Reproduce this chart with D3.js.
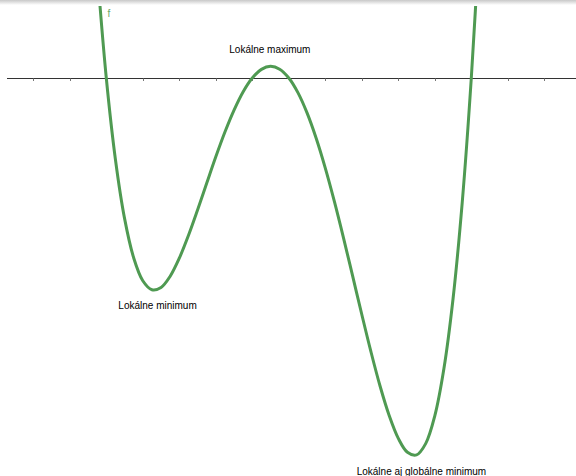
<!DOCTYPE html>
<html>
<head>
<meta charset="utf-8">
<script src="https://cdn.jsdelivr.net/npm/d3@7"></script>
<style>
  body { margin: 0; background: #fff; }
  svg { display: block; font-family: "Liberation Sans", Arial, sans-serif; }
</style>
</head>
<body>
<div id="chart"></div>
<script>
// 1. Data (x in tick units, y in plot units)
const xValues = [1.75, 2, 2.25, 2.5, 2.75, 3, 3.25, 3.5, 3.75, 4, 4.25, 4.5, 4.75, 5, 5.25, 5.5, 5.75,
  6, 6.25, 6.5, 6.75, 7, 7.25, 7.5, 7.75, 8, 8.25, 8.5, 8.75, 9, 9.25, 9.5, 9.75,
  10, 10.25, 10.5, 10.75, 11, 11.25, 11.5, 11.75, 12, 12.25];
const yValues = [5.72, 0, -4.34, -7.48, -9.58, -10.8, -11.28, -11.16, -10.56, -9.6, -8.39, -7.03, -5.61,
  -4.2, -2.88, -1.71, -0.73, 0, 0.46, 0.62, 0.47, 0, -0.78, -1.86, -3.21, -4.8, -6.59, -8.53,
  -10.56, -12.6, -14.58, -16.41, -17.98, -19.2, -19.94, -20.08, -19.48, -18.0, -15.48, -11.76,
  -6.66, 0, 8.41];
const xTicks = d3.range(0, 15);

const labelTexts = ["Lokálne maximum", "Lokálne minimum", "Lokálne aj globálne minimum"];
const labelX = [5.37, 2.33, 8.86];
const labelY = [1.32, -12.29, -21.17];
const seriesName = "f";

// 2. Dimensions
const width = 576, height = 476;

const svg = d3.select("#chart")
  .append("svg")
  .attr("width", width)
  .attr("height", height);

// top shadow band
const grad = svg.append("defs").append("linearGradient")
  .attr("id", "topShade").attr("x1", 0).attr("x2", 0).attr("y1", 0).attr("y2", 1);
grad.append("stop").attr("offset", "0%").attr("stop-color", "#c8c8c8");
grad.append("stop").attr("offset", "100%").attr("stop-color", "#ffffff");
svg.append("rect").attr("x", 0).attr("y", 0).attr("width", width).attr("height", 5)
  .attr("fill", "url(#topShade)");

svg.select("defs").append("clipPath").attr("id", "plotClip")
  .append("rect").attr("x", 7).attr("y", 6).attr("width", width - 7).attr("height", height - 6);

// 3. Scales
const x = d3.scaleLinear().domain([0, 14]).range([33.3, 544.3]);
const y = d3.scaleLinear().domain([0, -20]).range([78, 453.4]);

// 4. X axis: plain line with small ticks below
const plot = svg.append("g").attr("clip-path", "url(#plotClip)");
const axisY = Math.round(y(0)) + 0.5;

plot.append("line")
  .attr("x1", 7).attr("x2", width)
  .attr("y1", axisY).attr("y2", axisY)
  .attr("stroke", "#333")
  .attr("stroke-width", 1);

plot.selectAll(".tick")
  .data(xTicks)
  .enter()
  .append("line")
  .attr("class", "tick")
  .attr("x1", (d) => Math.round(x(d)) + 0.5)
  .attr("x2", (d) => Math.round(x(d)) + 0.5)
  .attr("y1", axisY)
  .attr("y2", axisY + 2.5)
  .attr("stroke", "#777")
  .attr("stroke-width", 1);

// 5. The function curve
const points = xValues.map((d, i) => [d, yValues[i]]);
const line = d3.line()
  .x((d) => x(d[0]))
  .y((d) => y(d[1]))
  .curve(d3.curveCatmullRom.alpha(0.5));

plot.append("path")
  .datum(points)
  .attr("fill", "none")
  .attr("stroke", "#4f9a52")
  .attr("stroke-width", 3)
  .attr("stroke-linejoin", "round")
  .attr("d", line);

// 6. Labels
svg.append("text")
  .attr("x", x(2.03))
  .attr("y", y(3.27))
  .attr("font-size", 10)
  .attr("fill", "#6aa86a")
  .text(seriesName);

svg.selectAll(".note")
  .data(labelTexts)
  .enter()
  .append("text")
  .attr("class", "note")
  .attr("x", (d, i) => x(labelX[i]))
  .attr("y", (d, i) => y(labelY[i]))
  .attr("font-size", 10)
  .attr("fill", "#000")
  .text((d) => d);
</script>
</body>
</html>
